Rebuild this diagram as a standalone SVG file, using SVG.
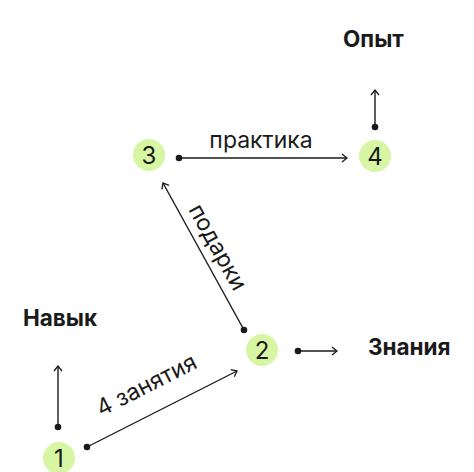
<svg xmlns="http://www.w3.org/2000/svg" width="474" height="472" viewBox="0 0 474 472">
<defs>
<marker id="arr" viewBox="0 0 10 10" refX="9" refY="5" markerWidth="10" markerHeight="10" markerUnits="userSpaceOnUse" orient="auto">
<path d="M4,1 L9,5 L4,9" fill="none" stroke="#1a1a1a" stroke-width="1.3"/>
</marker>
</defs>
<style>
.c{fill:#d6f6a3}
.n{font-family:Inter,"Liberation Sans",sans-serif;font-size:24px;fill:#1a1a1a;text-anchor:middle}
.t{font-family:Inter,"Liberation Sans",sans-serif;font-size:22.5px;font-weight:700;fill:#1a1a1a}
.l{font-family:Inter,"Liberation Sans",sans-serif;font-size:23px;fill:#1a1a1a}
.e{fill:none;stroke:#1a1a1a;stroke-width:1.4;marker-end:url(#arr)}
.d{fill:#1a1a1a}
</style>
<rect width="474" height="472" fill="#ffffff"/>
<g id="connectors">
<line class="e" x1="375" y1="127" x2="375" y2="90"/><circle class="d" cx="375" cy="127" r="3.3"/>
<line class="e" x1="179" y1="158" x2="347" y2="158"/><circle class="d" cx="179" cy="158" r="3.3"/>
<line class="e" x1="244" y1="330" x2="163" y2="183"/><circle class="d" cx="244" cy="330" r="3.3"/>
<line class="e" x1="87" y1="447" x2="237" y2="371"/><circle class="d" cx="87" cy="447" r="3.3"/>
<line class="e" x1="298" y1="351" x2="337" y2="351"/><circle class="d" cx="298" cy="351" r="3.3"/>
<line class="e" x1="58" y1="427" x2="58" y2="366"/><circle class="d" cx="58" cy="427" r="3.3"/>
<text class="l" x="261" y="148" text-anchor="middle">практика</text>
<text class="l" transform="translate(150,392) rotate(-27)" text-anchor="middle">4 занятия</text>
<text class="l" transform="translate(211,251) rotate(61)" text-anchor="middle">подарки</text>
</g>
<g id="node1"><circle class="c" cx="59" cy="458" r="16"/><text class="n" x="59" y="467">1</text></g>
<g id="node2"><circle class="c" cx="262" cy="350" r="16"/><text class="n" x="262" y="359">2</text></g>
<g id="node3"><circle class="c" cx="149" cy="155" r="16"/><text class="n" x="149" y="164">3</text></g>
<g id="node4"><circle class="c" cx="375" cy="156" r="16"/><text class="n" x="375" y="165">4</text></g>
<g id="label-opyt"><text class="t" x="343" y="47">Опыт</text></g>
<g id="label-navyk"><text class="t" x="23" y="326">Навык</text></g>
<g id="label-znaniya"><text class="t" x="368" y="355">Знания</text></g>
</svg>
